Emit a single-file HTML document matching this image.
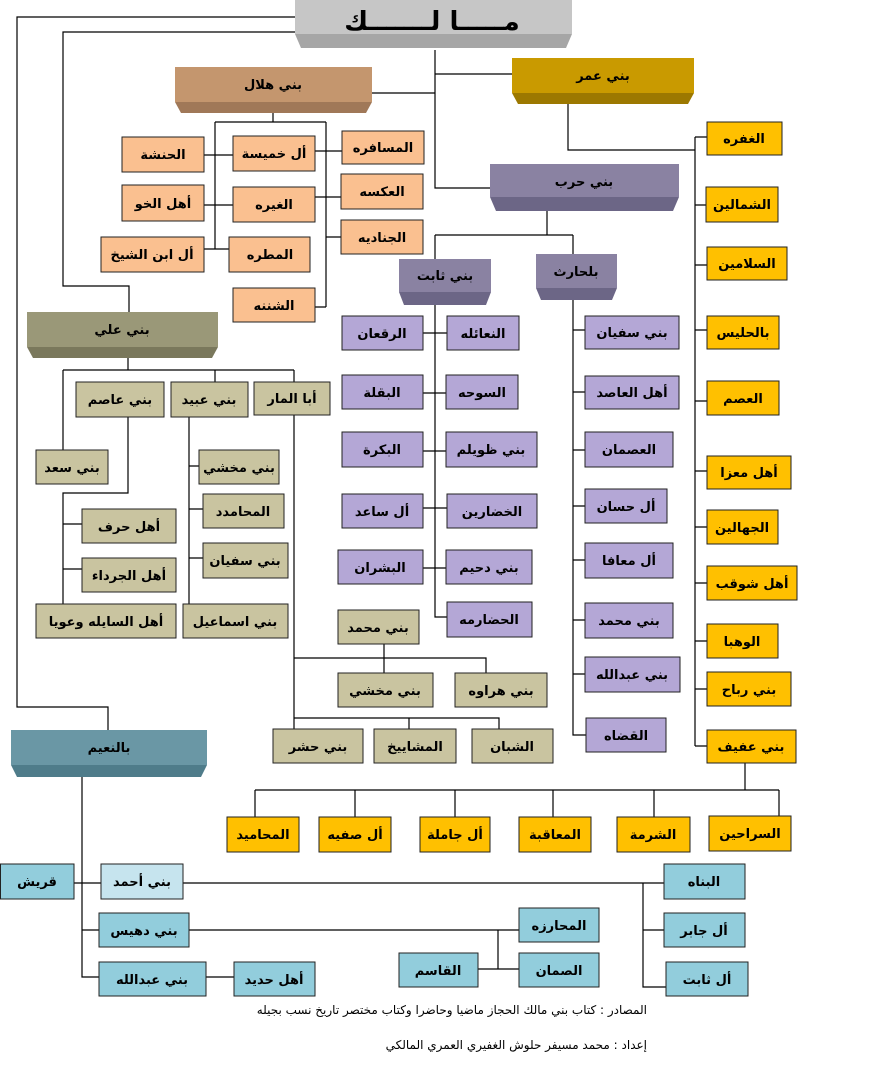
<!DOCTYPE html>
<html><head><meta charset="utf-8"><style>
html,body{margin:0;padding:0;background:#fff;width:889px;height:1065px;overflow:hidden}
svg{display:block}
text{font-family:"DejaVu Sans","Liberation Sans",sans-serif;font-weight:bold;font-size:13px;fill:#000;text-anchor:middle}
.o rect{fill:#fac090;stroke:#222;stroke-width:1}
.p rect{fill:#b4a7d6;stroke:#222;stroke-width:1}
.v rect{fill:#c9c4a0;stroke:#222;stroke-width:1}
.y rect{fill:#ffc000;stroke:#222;stroke-width:1}
.b rect{fill:#92cddc;stroke:#222;stroke-width:1}
path{fill:none;stroke:#000;stroke-width:1.2}
.f{font-weight:normal;font-size:12px;text-anchor:end}
</style></head><body>
<svg width="889" height="1065" viewBox="0 0 889 1065" xmlns="http://www.w3.org/2000/svg">
<!-- connectors -->
<path d="M295 17H17V707H108V730"/>
<path d="M295 32H63V286H129V312"/>
<path d="M435 50V188H490M435 74H512M372 93H435M568 104V150H695M695 137V746"/>
<path d="M695 137H707M695 205H706M695 265H707M695 330H707M695 401H707M695 471H707M695 527H707M695 583H707M695 641H707M695 689H707M695 746H707"/>
<path d="M273 113V122M215 122H326M215 122V249M326 122V307M204 155H233M315 151H342M204 205H233M315 197H341M326 237H341M204 249H229M315 307H326"/>
<path d="M547 211V235M435 235H573M435 235V259M573 235V255"/>
<path d="M435 305V617H447M423 333H447M423 393H446M423 451H446M423 508H447M423 568H446"/>
<path d="M573 300V735H586M573 330H585M573 392H585M573 450H585M573 506H585M573 560H585M573 620H585M573 674H585"/>
<path d="M128 358V370M63 370H294M63 370V450M215 370V382M294 370V382M128 417V493H63V604M63 524H82M63 569H82M189 417V604M189 466H199M189 509H203M189 558H203M294 415V729"/>
<path d="M384 644V673M294 658H486V673M294 718H499V729M409 718V729"/>
<path d="M745 763V790M255 790H779M255 790V817M355 790V817M455 790V817M553 790V817M654 790V817M779 790V816"/>
<path d="M82 777V977H99M74 883H101M183 883H664M82 930H99M189 930H519M498 930V969M478 969H519M643 883V987H666M643 930H664M206 977H234"/>

<!-- 3D headers -->
<g>
<rect x="295" y="0" width="277" height="34" fill="#c6c6c6"/><polygon points="295,34 572,34 566,48 301,48" fill="#a6a6a6"/>
<text x="432" y="30" style="font-size:26px">مـــــا لـــــــك</text>
<rect x="512" y="58" width="182" height="35" fill="#c99a00"/><polygon points="512,93 694,93 688,104 518,104" fill="#9c7800"/>
<text x="603" y="80">بني عمر</text>
<rect x="175" y="67" width="197" height="35" fill="#c4966e"/><polygon points="175,102 372,102 366,113 181,113" fill="#a07858"/>
<text x="273" y="89">بني هلال</text>
<rect x="490" y="164" width="189" height="33" fill="#8a82a2"/><polygon points="490,197 679,197 673,211 496,211" fill="#6c6686"/>
<text x="584" y="186">بني حرب</text>
<rect x="399" y="259" width="92" height="33" fill="#8a82a2"/><polygon points="399,292 491,292 486,305 404,305" fill="#6c6686"/>
<text x="445" y="280">بني ثابت</text>
<rect x="536" y="254" width="81" height="34" fill="#8a82a2"/><polygon points="536,288 617,288 612,300 541,300" fill="#6c6686"/>
<text x="576" y="276">بلحارث</text>
<rect x="27" y="312" width="191" height="35" fill="#9a9878"/><polygon points="27,347 218,347 212,358 33,358" fill="#7a785c"/>
<text x="122" y="334">بني علي</text>
<rect x="11" y="730" width="196" height="35" fill="#6a97a5"/><polygon points="11,765 207,765 201,777 17,777" fill="#4f7c8a"/>
<text x="109" y="752">بالنعيم</text>
</g>

<g class="o">
<rect x="122" y="137" width="82" height="35"/><text x="163" y="159">الحنشة</text>
<rect x="233" y="136" width="82" height="35"/><text x="274" y="158">أل خميسة</text>
<rect x="342" y="131" width="82" height="33"/><text x="383" y="152">المسافره</text>
<rect x="341" y="174" width="82" height="35"/><text x="382" y="196">العكسه</text>
<rect x="233" y="187" width="82" height="35"/><text x="274" y="209">الغيره</text>
<rect x="122" y="185" width="82" height="36"/><text x="163" y="208">أهل الخو</text>
<rect x="341" y="220" width="82" height="34"/><text x="382" y="242">الجناديه</text>
<rect x="229" y="237" width="81" height="35"/><text x="270" y="259">المطره</text>
<rect x="101" y="237" width="103" height="35"/><text x="152" y="259">أل ابن الشيخ</text>
<rect x="233" y="288" width="82" height="34"/><text x="274" y="310">الشننه</text>
</g>

<g class="v">
<rect x="76" y="382" width="88" height="35"/><text x="120" y="404">بني عاصم</text>
<rect x="171" y="382" width="77" height="35"/><text x="209" y="404">بني عبيد</text>
<rect x="254" y="382" width="76" height="33"/><text x="292" y="403">أبا المار</text>
<rect x="36" y="450" width="72" height="34"/><text x="72" y="472">بني سعد</text>
<rect x="82" y="509" width="94" height="34"/><text x="129" y="531">أهل حرف</text>
<rect x="82" y="558" width="94" height="34"/><text x="129" y="580">أهل الجرداء</text>
<rect x="36" y="604" width="140" height="34"/><text x="106" y="626">أهل السايله وعويا</text>
<rect x="199" y="450" width="80" height="34"/><text x="239" y="472">بني مخشي</text>
<rect x="203" y="494" width="81" height="34"/><text x="243" y="516">المحامدد</text>
<rect x="203" y="543" width="85" height="35"/><text x="245" y="565">بني سفيان</text>
<rect x="183" y="604" width="105" height="34"/><text x="235" y="626">بني اسماعيل</text>
<rect x="338" y="610" width="81" height="34"/><text x="378" y="632">بني محمد</text>
<rect x="338" y="673" width="95" height="34"/><text x="385" y="695">بني مخشي</text>
<rect x="455" y="673" width="92" height="34"/><text x="501" y="695">بني هراوه</text>
<rect x="273" y="729" width="90" height="34"/><text x="318" y="751">بني حشر</text>
<rect x="374" y="729" width="82" height="34"/><text x="415" y="751">المشاييخ</text>
<rect x="472" y="729" width="81" height="34"/><text x="512" y="751">الشبان</text>
</g>

<g class="p">
<rect x="342" y="316" width="81" height="34"/><text x="382" y="338">الرقعان</text>
<rect x="447" y="316" width="72" height="34"/><text x="483" y="338">النعائله</text>
<rect x="342" y="375" width="81" height="34"/><text x="382" y="397">البقلة</text>
<rect x="446" y="375" width="72" height="34"/><text x="482" y="397">السوحه</text>
<rect x="342" y="432" width="81" height="35"/><text x="382" y="454">البكرة</text>
<rect x="446" y="432" width="91" height="35"/><text x="491" y="454">بني ظويلم</text>
<rect x="342" y="494" width="81" height="34"/><text x="382" y="516">أل ساعد</text>
<rect x="447" y="494" width="90" height="34"/><text x="492" y="516">الخضارين</text>
<rect x="338" y="550" width="85" height="34"/><text x="380" y="572">البشران</text>
<rect x="446" y="550" width="86" height="34"/><text x="489" y="572">بني دحيم</text>
<rect x="447" y="602" width="85" height="35"/><text x="489" y="624">الحضارمه</text>
<rect x="585" y="316" width="94" height="33"/><text x="632" y="337">بني سفيان</text>
<rect x="585" y="376" width="94" height="33"/><text x="632" y="397">أهل العاصد</text>
<rect x="585" y="432" width="88" height="35"/><text x="629" y="454">العصمان</text>
<rect x="585" y="489" width="82" height="34"/><text x="626" y="511">أل حسان</text>
<rect x="585" y="543" width="88" height="35"/><text x="629" y="565">أل معافا</text>
<rect x="585" y="603" width="88" height="35"/><text x="629" y="625">بني محمد</text>
<rect x="585" y="657" width="95" height="35"/><text x="632" y="679">بني عبدالله</text>
<rect x="586" y="718" width="80" height="34"/><text x="626" y="740">القضاه</text>
</g>

<g class="y">
<rect x="707" y="122" width="75" height="33"/><text x="744" y="143">الغفره</text>
<rect x="706" y="187" width="72" height="35"/><text x="742" y="209">الشمالين</text>
<rect x="707" y="247" width="80" height="33"/><text x="747" y="268">السلامين</text>
<rect x="707" y="316" width="72" height="33"/><text x="743" y="337">بالحليس</text>
<rect x="707" y="381" width="72" height="34"/><text x="743" y="403">العصم</text>
<rect x="707" y="456" width="84" height="33"/><text x="749" y="477">أهل معزا</text>
<rect x="707" y="510" width="71" height="34"/><text x="742" y="532">الجهالين</text>
<rect x="707" y="566" width="90" height="34"/><text x="752" y="588">أهل شوقب</text>
<rect x="707" y="624" width="71" height="34"/><text x="742" y="646">الوهبا</text>
<rect x="707" y="672" width="84" height="34"/><text x="749" y="694">بني رباح</text>
<rect x="707" y="730" width="89" height="33"/><text x="751" y="751">بني عفيف</text>
<rect x="227" y="817" width="72" height="35"/><text x="263" y="839">المحاميد</text>
<rect x="319" y="817" width="72" height="35"/><text x="355" y="839">أل صفيه</text>
<rect x="420" y="817" width="70" height="35"/><text x="455" y="839">أل جاملة</text>
<rect x="519" y="817" width="72" height="35"/><text x="555" y="839">المعاقبة</text>
<rect x="617" y="817" width="73" height="35"/><text x="653" y="839">الشرمة</text>
<rect x="709" y="816" width="82" height="35"/><text x="750" y="838">السراحين</text>
</g>

<g class="b">
<rect x="0.5" y="864" width="73.5" height="35"/><text x="37" y="886">قريش</text>
<rect x="101" y="864" width="82" height="35" style="fill:#c6e4ee"/><text x="142" y="886">بني أحمد</text>
<rect x="664" y="864" width="81" height="35"/><text x="704" y="886">البناه</text>
<rect x="664" y="913" width="81" height="34"/><text x="704" y="935">أل جابر</text>
<rect x="666" y="962" width="82" height="34"/><text x="707" y="984">أل ثابت</text>
<rect x="99" y="913" width="90" height="34"/><text x="144" y="935">بني دهيس</text>
<rect x="519" y="908" width="80" height="34"/><text x="559" y="930">المحارزه</text>
<rect x="519" y="953" width="80" height="34"/><text x="559" y="975">الصمان</text>
<rect x="399" y="953" width="79" height="34"/><text x="438" y="975">القاسم</text>
<rect x="99" y="962" width="107" height="34"/><text x="152" y="984">بني عبدالله</text>
<rect x="234" y="962" width="81" height="34"/><text x="274" y="984">أهل حديد</text>
</g>

<text class="f" x="647" y="1014">المصادر : كتاب بني مالك الحجاز ماضيا وحاضرا وكتاب مختصر تاريخ نسب بجيله</text>
<text class="f" x="647" y="1049">إعداد : محمد مسيفر حلوش الغفيري العمري المالكي</text>
</svg>
</body></html>
